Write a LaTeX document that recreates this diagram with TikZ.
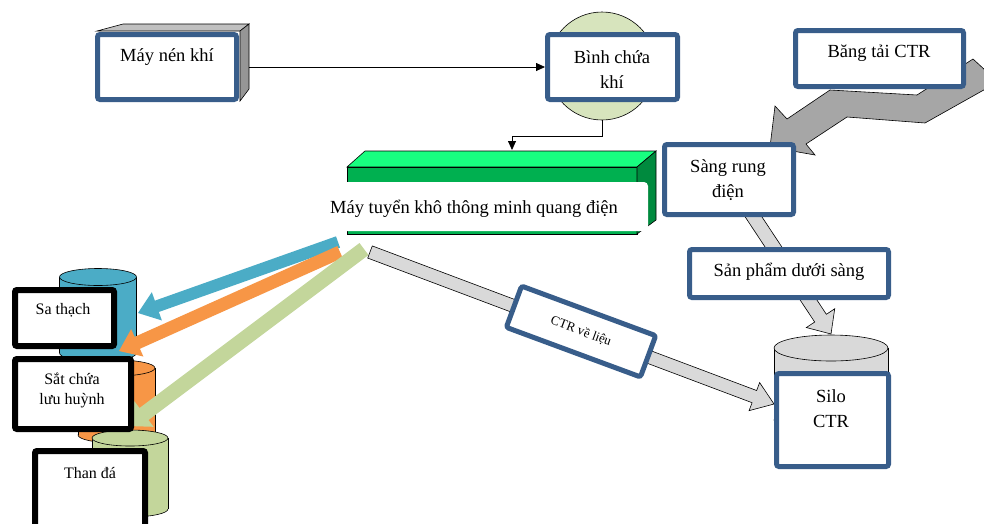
\documentclass[tikz,border=0pt]{standalone}
\usepackage{fontspec}
\setmainfont{Liberation Serif}
\usetikzlibrary{calc,arrows.meta}
\definecolor{boxblue}{RGB}{56,93,138}
\definecolor{tankgreen}{RGB}{215,228,189}
\definecolor{gtop}{RGB}{24,255,128}
\definecolor{gfront}{RGB}{0,176,80}
\definecolor{gside}{RGB}{0,138,62}
\definecolor{cubetop}{RGB}{192,192,192}
\definecolor{cubeside}{RGB}{150,150,150}
\definecolor{lgray}{RGB}{217,217,217}
\definecolor{dgray}{RGB}{166,166,166}
\definecolor{cblue}{RGB}{75,172,198}
\definecolor{corange}{RGB}{247,150,70}
\definecolor{cgreen}{RGB}{195,214,155}
\newcommand\blockarrow[7]{%
 \coordinate (#1-h) at ($(#4)!#6!(#3)$);
 \path[#2] ($(#3)!#5!90:(#4)$) -- ($(#1-h)!#5!90:(#4)$) -- ($(#1-h)!#7!90:(#4)$) -- (#4) -- ($(#1-h)!#7!-90:(#4)$) -- ($(#1-h)!#5!-90:(#4)$) -- ($(#3)!#5!-90:(#4)$) -- cycle;}
\newcommand\cyl[6]{%
 \filldraw[fill=#6, draw=black, line width=0.6pt] (#1,#3) ellipse [x radius=#4pt, y radius=#5pt];
 \fill[#6] (#1-#4,#2) rectangle (#1+#4,#3);
 \draw[line width=0.6pt] (#1-#4,#2) -- (#1-#4,#3) (#1+#4,#2) -- (#1+#4,#3);
 \filldraw[fill=#6, draw=black, line width=0.6pt] (#1,#2) ellipse [x radius=#4pt, y radius=#5pt];}
\begin{document}
\begin{tikzpicture}[x=1pt,y=-1pt,
  bluebox/.style={draw=boxblue, line width=5pt, fill=white, rounded corners=2.5pt, inner sep=0pt},
  blkbox/.style={draw=black, line width=6pt, fill=white, rounded corners=2pt, inner sep=0pt},
  lbl/.style={font=\fontsize{18.5}{25}\selectfont, align=center, inner sep=0pt},
  slbl/.style={font=\fontsize{16}{20}\selectfont, align=center, inner sep=0pt},
  thinline/.style={draw=black, line width=0.6pt},
  conn/.style={draw=black, line width=0.8pt, -{Triangle[length=9pt,width=8pt]}},
  lgarrow/.style={fill=lgray, draw=black, line width=0.6pt},
]
\useasboundingbox (0,0) rectangle (984,523);
\clip (0,0) rectangle (984,523);
\fill[white] (0,0) rectangle (984,523);

% ---- Máy nén khí (cube)
\filldraw[fill=cubetop, thinline] (97,31) -- (123,24) -- (249,24) -- (240,31) -- cycle;
\filldraw[fill=cubeside, thinline] (240,31) -- (249,24) -- (249,89) -- (240,101) -- cycle;
\node[bluebox, minimum width=139pt, minimum height=65pt] (mnk) at (167,67) {};
\node[lbl] (mnkT) at (167,57) {Máy nén khí};
\coordinate (mnkR) at (249,67);

% ---- Bình chứa khí
\node[circle, fill=tankgreen, thinline, minimum size=108pt, inner sep=0pt] (tank) at (602,66) {};
\node[bluebox, minimum width=130pt, minimum height=65pt] (binh) at (612.5,67) {};
\node[lbl] (binhT) at (612,70) {Bình chứa\\khí};
\draw[conn] (mnkR) -- (binh.west);

% ---- Máy tuyển (green box)
\filldraw[fill=gtop, thinline] (347,167) -- (365,151) -- (656,151) -- (637,167) -- cycle;
\filldraw[fill=gfront, thinline] (347,167) rectangle (637,234);
\filldraw[fill=gside, thinline] (637,167) -- (656,151) -- (656,220) -- (637,234) -- cycle;
\node[fill=white, rounded corners=4pt, minimum width=330pt, minimum height=49pt, inner sep=0pt] (machine) at (483,206.5) {};
\node[lbl] (machineT) at (474,209) {Máy tuyển khô thông minh quang điện};
\coordinate (mtop) at (512,150);
\draw[conn] (tank.south) -- ++(0,16) -| (mtop);

% ---- Băng tải zig-zag arrow
\filldraw[fill=dgray, thinline] (973,59) -- (998,82) -- (925,123) -- (847,117) -- (806,144) -- (815,155) -- (770,147) -- (775,106) -- (787,119) -- (830,90) -- (917,95) -- cycle;
\node[bluebox, minimum width=168pt, minimum height=56pt] (bang) at (879.5,58.5) {};
\node[lbl] (bangT) at (879,53) {Băng tải CTR};

% ---- Silo cylinder
\cyl{831}{348}{420}{57}{13}{lgray}

% ---- arrow Sàng -> Silo
\coordinate (sS) at (749,210);
\coordinate (sT) at (831,334);
\blockarrow{sa}{lgarrow}{sS}{sT}{7pt}{19pt}{17pt}

% ---- Sàng rung
\node[bluebox, minimum width=129pt, minimum height=70pt] (sang) at (729,179.5) {};
\node[lbl] (sangT) at (728,180) {Sàng rung\\điện};

% ---- Sản phẩm dưới sàng
\node[bluebox, minimum width=199pt, minimum height=48pt] (sp) at (789,273.5) {};
\node[lbl] (spT) at (789,272) {Sản phẩm dưới sàng};

% ---- CTR về liệu arrow
\coordinate (cS) at (370,252);
\coordinate (cT) at (774,404);
\blockarrow{ca}{lgarrow}{cS}{cT}{6.5pt}{21pt}{15pt}
\node[bluebox, minimum width=143pt, minimum height=44pt, rotate=-20.3, font=\fontsize{13}{15}\selectfont] (ctr) at (581,331.5) {CTR về liệu};

% ---- Silo box
\node[bluebox, minimum width=112pt, minimum height=93pt] (silo) at (832.5,420) {};
\node[lbl] (siloT) at (831,409) {Silo\\CTR};

% ---- left cylinders
\cyl{98}{277}{353}{38.5}{8.5}{cblue}
\cyl{116.5}{368}{435}{38.5}{8}{corange}
\cyl{130}{438}{509}{38}{8}{cgreen}

% ---- colored arrows
\coordinate (bS) at (338,242);
\coordinate (bT) at (138,313);
\blockarrow{ba}{fill=cblue}{bS}{bT}{6pt}{20pt}{15pt}
\coordinate (oS) at (340,252);
\coordinate (oT) at (119,351);
\blockarrow{oa}{fill=corange}{oS}{oT}{6.5pt}{20pt}{15pt}
\coordinate (gS) at (364,249);
\coordinate (gT) at (128,426);
\blockarrow{ga}{fill=cgreen}{gS}{gT}{7.5pt}{20pt}{16pt}

% ---- black boxes
\node[blkbox, minimum width=99pt, minimum height=56pt] (sa) at (64.5,318) {};
\node[slbl] (saT) at (63,310) {Sa thạch};
\node[blkbox, minimum width=116pt, minimum height=70pt] (sat) at (73,394) {};
\node[slbl] (satT) at (72,390) {Sắt chứa\\lưu huỳnh};
\node[blkbox, minimum width=110pt, minimum height=76pt] (than) at (90,489) {};
\node[slbl] (thanT) at (90,473) {Than đá};
\end{tikzpicture}
\end{document}
